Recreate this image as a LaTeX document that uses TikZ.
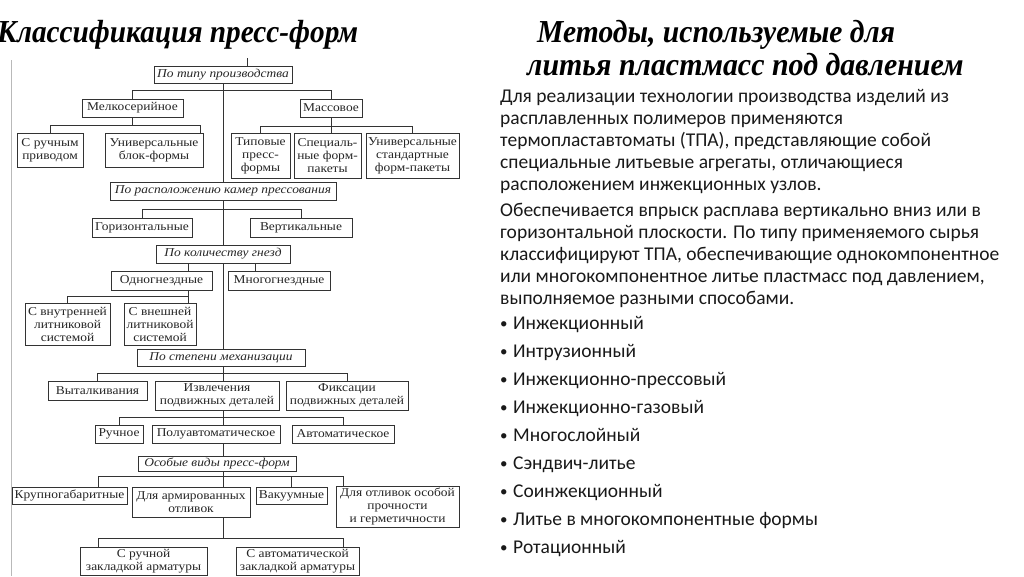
\documentclass[tikz,border=0pt]{standalone}
\usepackage{fontspec}
\setmainfont{Liberation Serif}
\newfontfamily\diagfont[FakeStretch=1.12]{Liberation Serif}
\newfontfamily\bodyfont{Carlito}
\newfontfamily\titlefont{Liberation Serif}
\tikzset{
  dbox/.style={draw=black!80, line width=0.9pt, inner sep=0pt, align=center,
    text=black!85, font=\diagfont\fontsize{12}{13}\selectfont},
  cat/.style={dbox, font=\diagfont\itshape\fontsize{12}{13}\selectfont},
  link/.style={draw=black!80, line width=0.9pt},
  body/.style={inner sep=0pt, text=black!90, font=\bodyfont\fontsize{19.5}{22}\selectfont},
  bul/.style={inner sep=0pt, text=black!90, font=\bodyfont\fontsize{15}{22}\selectfont},
  ttl/.style={inner sep=0pt, text=black, font=\titlefont\bfseries\itshape\fontsize{32}{36}\selectfont}
}
\newcommand\boxnode[7]{\node[#1, minimum width={(#5-#3)*1pt}, minimum height={(#6-#4)*1pt}] (#2) at ({(#3+#5)/2},{(#4+#6)/2}) {#7};}
\begin{document}
\begin{tikzpicture}[x=1pt,y=-1pt]
\useasboundingbox[fill=white] (0,0) rectangle (1024,576);
% titles
\node[ttl, anchor=base west] (title1) at (-3,42) {\scalebox{0.915}[1]{Классификация пресс-форм}};
\node[ttl, anchor=base west] (title2) at (537,42) {\scalebox{0.925}[1]{Методы, используемые для}};
\node[ttl, anchor=base west] (title3) at (527,75) {\scalebox{0.935}[1]{литья пластмасс под давлением}};
% right text
\foreach \t [count=\i] in {{Для реализации технологии производства изделий из},{расплавленных полимеров применяются},{термопластавтоматы (ТПА), представляющие собой},{специальные литьевые агрегаты, отличающиеся},{расположением инжекционных узлов.}}
  \node[body, anchor=base west] (pa\i) at (500,{102+22*(\i-1)}) {\t};
\foreach \t [count=\i] in {{Обеспечивается впрыск расплава вертикально вниз или в},{горизонтальной плоскости. По типу применяемого сырья},{классифицируют ТПА, обеспечивающие однокомпонентное},{или многокомпонентное литье пластмасс под давлением,},{выполняемое разными способами.}}
  \node[body, anchor=base west] (pb\i) at (500,{216+22*(\i-1)}) {\t};
\foreach \t [count=\i] in {Инжекционный,Интрузионный,Инжекционно-прессовый,Инжекционно-газовый,Многослойный,Сэндвич-литье,Соинжекционный,Литье в многокомпонентные формы,Ротационный}{
  \node[body, anchor=base west] (bt\i) at (513,{329+28.1*(\i-1)}) {\t};
  \node[bul, anchor=base west] (bd\i) at (500,{328+28.1*(\i-1)}) {•};
}
% left gray rule
\coordinate (lg1) at (11,60);
\coordinate (lg2) at (11,576);
\draw[gray!55, line width=0.6pt] (lg1) -- (lg2);
% boxes
\boxnode{cat}{t1}{154}{66}{292}{83}{По типу производства}
\boxnode{dbox}{m1}{82}{99}{183}{117}{Мелкосерийное}
\boxnode{dbox}{m2}{300}{99}{362}{117}{Массовое}
\boxnode{dbox}{a1}{17}{133}{83}{167}{С ручным\\приводом}
\boxnode{dbox}{a2}{105}{133}{203}{167}{Универсальные\\блок-формы}
\boxnode{dbox}{a3}{231}{133}{290}{178}{Типовые\\пресс-\\формы}
\boxnode{dbox}{a4}{294}{133}{361}{178}{Специаль-\\ные форм-\\пакеты}
\boxnode{dbox}{a5}{366}{133}{459}{178}{Универсальные\\стандартные\\форм-пакеты}
\boxnode{cat}{t2}{110}{182}{336}{200}{По расположению камер прессования}
\boxnode{dbox}{h1}{92}{218}{192}{237}{Горизонтальные}
\boxnode{dbox}{h2}{250}{218}{352}{237}{Вертикальные}
\boxnode{cat}{t3}{156}{245}{290}{263}{По количеству гнезд}
\boxnode{dbox}{g1}{111}{271}{212}{290}{Одногнездные}
\boxnode{dbox}{g2}{228}{271}{330}{290}{Многогнездные}
\boxnode{dbox}{g3}{25}{303}{110}{345}{С внутренней\\литниковой\\системой}
\boxnode{dbox}{g4}{124}{303}{196}{345}{С внешней\\литниковой\\системой}
\boxnode{cat}{t4}{137}{349}{305}{366}{По степени механизации}
\boxnode{dbox}{s1}{48}{381}{147}{400}{Выталкивания}
\boxnode{dbox}{s2}{155}{381}{279}{410}{Извлечения\\подвижных деталей}
\boxnode{dbox}{s3}{286}{381}{408}{410}{Фиксации\\подвижных деталей}
\boxnode{dbox}{r1}{95}{425}{143}{443}{Ручное}
\boxnode{dbox}{r2}{152}{425}{280}{443}{Полуавтоматическое}
\boxnode{dbox}{r3}{292}{425}{394}{443}{Автоматическое}
\boxnode{cat}{t5}{138}{456}{296}{471}{Особые виды пресс-форм}
\boxnode{dbox}{o1}{12}{487}{127}{504}{Крупногабаритные}
\boxnode{dbox}{o2}{132}{487}{250}{517}{Для армированных\\отливок}
\boxnode{dbox}{o3}{256}{487}{327}{504}{Вакуумные}
\boxnode{dbox}{o4}{336}{486}{459}{527}{Для отливок особой\\прочности\\и герметичности}
\boxnode{dbox}{o5}{80}{547}{207}{575}{С ручной\\закладкой арматуры}
\boxnode{dbox}{o6}{236}{547}{359}{575}{С автоматической\\закладкой арматуры}
% helper coordinates
\coordinate (tr) at (223,0);
\coordinate (tk) at (247,58);
\coordinate (a2d) at (200,0);
\coordinate (g1d) at (188,0);
\coordinate (g2d) at (255,0);
\coordinate (lft) at (98,0);
\coordinate (rgt) at (343,0);
% connectors
\draw[link] (tk) -- (tk |- t1.north);
\draw[link] (tr |- t1.south) -- (tr |- t2.north);
\draw[link] (m1.north) -- ++(0,-8) -| (m2.north);
\draw[link] (m1.south) -- ++(0,9);
\draw[link] (a1.north) -- ++(0,-7) -| (a2d |- a2.north);
\draw[link] (m2.south) -- (m2.south |- a4.north);
\draw[link] (a3.north) -- ++(0,-6) -| (a5.north);
\draw[link] (tr |- t2.south) -- (tr |- t3.north);
\draw[link] (h1.north) -- ++(0,-8) -| (h2.north);
\draw[link] (tr |- t3.south) -- (tr |- t4.north);
\draw[link] (g1d |- t3.south) -- (g1d |- g1.north);
\draw[link] (g2d |- t3.south) -- (g2d |- g2.north);
\draw[link] (g1d |- g1.south) -- (g1d |- g4.north);
\draw[link] (g3.north) -- ++(0,-6) -| (g1d |- g4.north);
\draw[link] (tr |- t4.south) -- (tr |- s2.north);
\draw[link] (s1.north) -- ++(0,-7) -| (s3.north);
\draw[link] (tr |- s2.south) -- (tr |- r2.north);
\draw[link] (r1.north) -- ++(0,-7) -| (r3.north);
\draw[link] (tr |- r2.south) -- (tr |- t5.north);
\draw[link] (tr |- t5.south) -- (tr |- o2.north);
\draw[link] (lft |- o1.north) -- ++(0,-10) -| (rgt |- o4.north);
\draw[link] (o3.north) -- ++(0,-10);
\draw[link] (tr |- o2.south) -- ++(0,22);
\draw[link] (lft |- o5.north) -- ++(0,-8) -| (rgt |- o6.north);
\end{tikzpicture}
\end{document}
